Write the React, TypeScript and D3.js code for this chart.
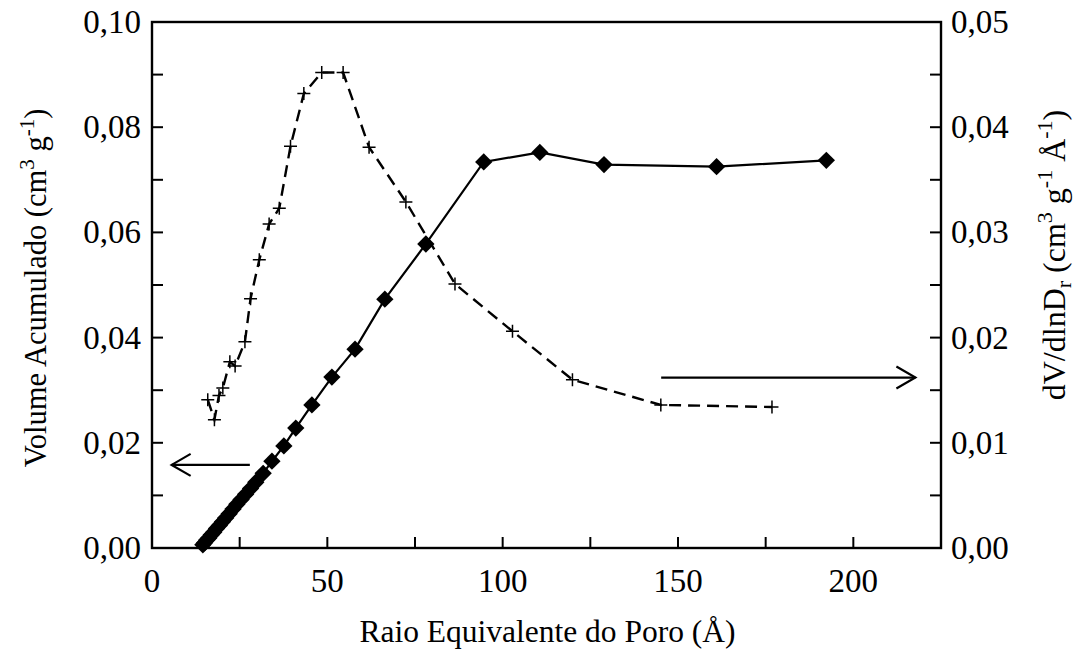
import React from "react";
import * as d3 from "d3";

// Cumulative pore volume (left axis, cm3/g) against equivalent pore radius (Å)
const volumeRadius = [
  14.5, 15.0, 15.6, 16.2, 16.9, 17.6, 18.4, 19.2, 20.1, 21.0, 22.0, 23.1, 24.2,
  25.4, 26.7, 28.1, 29.6, 31.7, 34.2, 37.6, 41.0, 45.6, 51.3, 57.9, 66.4, 78.1,
  94.6, 110.6, 128.9, 161.0, 192.3,
];
const cumulativeVolume = [
  0.0006, 0.001, 0.0015, 0.0019, 0.0025, 0.003, 0.0037, 0.0043, 0.005, 0.0057,
  0.0065, 0.0074, 0.0083, 0.0092, 0.0102, 0.0113, 0.0125, 0.0142, 0.0165,
  0.0194, 0.0228, 0.0272, 0.0325, 0.0378, 0.0473, 0.0578, 0.0734, 0.0752,
  0.0729, 0.0725, 0.0737,
];

// Pore size distribution dV/dlnDr (right axis)
const psdRadius = [
  15.9, 17.8, 19.1, 20.2, 22.2, 23.7, 26.5, 28.1, 30.6, 33.4, 36.3, 39.5, 43.3,
  48.4, 54.5, 61.9, 72.4, 86.4, 102.8, 119.9, 145.1, 176.8,
];
const psdValue = [
  0.0141, 0.0122, 0.0145, 0.0152, 0.0177, 0.0173, 0.0196, 0.0237, 0.0274,
  0.0308, 0.0323, 0.0382, 0.0432, 0.0452, 0.0452, 0.0381, 0.0329, 0.0251,
  0.0206, 0.016, 0.0136, 0.0134,
];

const xTicks = [0, 25, 50, 75, 100, 125, 150, 175, 200, 225];
const xLabels = [0, 50, 100, 150, 200];
const leftTicks = [0, 0.01, 0.02, 0.03, 0.04, 0.05, 0.06, 0.07, 0.08, 0.09, 0.1];
const leftLabels = [0, 0.02, 0.04, 0.06, 0.08, 0.1];
const rightTicks = [0, 0.005, 0.01, 0.015, 0.02, 0.025, 0.03, 0.035, 0.04, 0.045, 0.05];
const rightLabels = [0, 0.01, 0.02, 0.03, 0.04, 0.05];

// Arrows pointing to the axis each curve belongs to: [x0, x1, y on left axis]
const leftArrow = [27.9, 5.6, 0.0158];
const rightArrow = [145.2, 217.7, 0.0324];

const W = 1075;
const H = 650;
const left = 152;
const right = 941;
const top = 22;
const bottom = 548;

const serif = "Liberation Serif";
const comma = (v: number) => v.toFixed(2).replace(".", ",");

export default function App() {
  const x = d3.scaleLinear().domain([0, 225]).range([left, right]);
  const yL = d3.scaleLinear().domain([0, 0.1]).range([bottom, top]);
  const yR = d3.scaleLinear().domain([0, 0.05]).range([bottom, top]);

  const volLine = d3
    .line<number>()
    .x((d) => x(volumeRadius[d]))
    .y((d) => yL(cumulativeVolume[d]));
  const psdLine = d3
    .line<number>()
    .x((d) => x(psdRadius[d]))
    .y((d) => yR(psdValue[d]));

  const diamond = d3.symbol(d3.symbolSquare, 150)();
  const tickLen = 11;
  const cross = 6.5;

  const arrow = (a: number[], key: string) => {
    const x0 = x(a[0]);
    const x1 = x(a[1]);
    const yy = yL(a[2]);
    const dir = Math.sign(x1 - x0);
    const hl = 19;
    const hw = 11;
    return (
      <g key={key} fill="none" stroke="#000" strokeWidth={2.2}>
        <line x1={x0} y1={yy} x2={x1} y2={yy} />
        <polyline
          points={`${x1 - dir * hl},${yy - hw} ${x1},${yy} ${x1 - dir * hl},${yy + hw}`}
        />
      </g>
    );
  };

  return (
    <svg
      width={W}
      height={H}
      style={{ position: "absolute", left: 0, top: 0, background: "#fff", fontFamily: serif }}
    >
      {/* data lines */}
      <path
        d={psdLine(d3.range(psdRadius.length)) || ""}
        fill="none"
        stroke="#000"
        strokeWidth={2.4}
        strokeDasharray="12,7"
      />
      <path
        d={volLine(d3.range(volumeRadius.length)) || ""}
        fill="none"
        stroke="#000"
        strokeWidth={2.2}
      />
      {psdRadius.map((r, i) => (
        <path
          key={"c" + i}
          d={`M${x(r) - cross},${yR(psdValue[i])}h${2 * cross}M${x(r)},${yR(psdValue[i]) - cross}v${2 * cross}`}
          stroke="#000"
          strokeWidth={1.5}
        />
      ))}
      {volumeRadius.map((r, i) => (
        <path
          key={"d" + i}
          d={diamond || ""}
          transform={`translate(${x(r)},${yL(cumulativeVolume[i])}) rotate(45)`}
          fill="#000"
        />
      ))}

      {arrow(leftArrow, "la")}
      {arrow(rightArrow, "ra")}

      {/* frame */}
      <rect
        x={left}
        y={top}
        width={right - left}
        height={bottom - top}
        fill="none"
        stroke="#000"
        strokeWidth={2.4}
      />

      {/* bottom axis */}
      {xTicks.map((t) => (
        <line key={"xt" + t} x1={x(t)} x2={x(t)} y1={bottom} y2={bottom - tickLen} stroke="#000" strokeWidth={2} />
      ))}
      {xLabels.map((t) => (
        <text key={"xl" + t} x={x(t)} y={592} textAnchor="middle" fontSize={33}>
          {t}
        </text>
      ))}

      {/* left axis */}
      {leftTicks.map((t) => (
        <line key={"lt" + t} x1={left} x2={left + tickLen} y1={yL(t)} y2={yL(t)} stroke="#000" strokeWidth={2} />
      ))}
      {leftLabels.map((t) => (
        <text key={"ll" + t} x={141} y={yL(t) + 11} textAnchor="end" fontSize={33}>
          {comma(t)}
        </text>
      ))}

      {/* right axis */}
      {rightTicks.map((t) => (
        <line key={"rt" + t} x1={right} x2={right - tickLen} y1={yR(t)} y2={yR(t)} stroke="#000" strokeWidth={2} />
      ))}
      {rightLabels.map((t) => (
        <text key={"rl" + t} x={951} y={yR(t) + 11} textAnchor="start" fontSize={33}>
          {comma(t)}
        </text>
      ))}

      {/* axis titles */}
      <text x={(left + right) / 2 + 1} y={642} textAnchor="middle" fontSize={31.5}>
        Raio Equivalente do Poro (Å)
      </text>
      <text
        transform={`translate(46,${(top + bottom) / 2 + 3}) rotate(-90)`}
        textAnchor="middle"
        fontSize={30.5}
      >
        Volume Acumulado (cm
        <tspan fontSize={21} dy={-12}>3</tspan>
        <tspan dy={12}> g</tspan>
        <tspan fontSize={21} dy={-12}>-1</tspan>
        <tspan dy={12}>)</tspan>
      </text>
      <text
        transform={`translate(1065,255) rotate(-90)`}
        textAnchor="middle"
        fontSize={32}
      >
        dV/dlnD
        <tspan fontSize={22} dy={6}>r</tspan>
        <tspan dy={-6}> (cm</tspan>
        <tspan fontSize={22} dy={-13}>3</tspan>
        <tspan dy={13}> g</tspan>
        <tspan fontSize={22} dy={-13}>-1</tspan>
        <tspan dy={13}> Å</tspan>
        <tspan fontSize={22} dy={-13}>-1</tspan>
        <tspan dy={13}>)</tspan>
      </text>
    </svg>
  );
}
